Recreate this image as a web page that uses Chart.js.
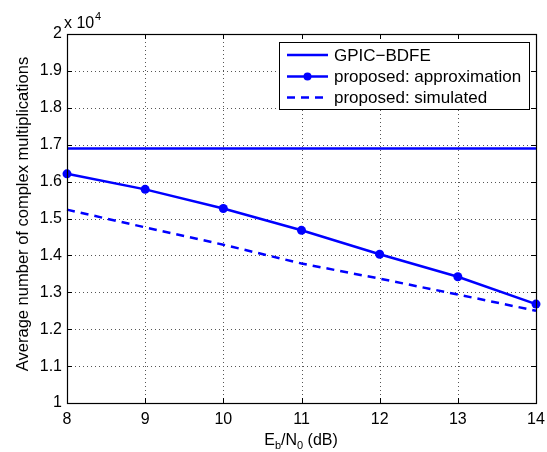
<!DOCTYPE html>
<html lang="en">
<head>
    <meta charset="UTF-8">
    <script src="https://cdn.jsdelivr.net/npm/chart.js"></script>
    <title>Complexity</title>
</head>
<style>
    body{
        margin: 0;
        background: white;
    }
    .box{
        width: 547px;
        height: 452px;
    }
</style>
<body>
    <div class="box">
        <canvas id="myChart" width="547" height="452"></canvas>
    </div>
<script>
    // Eb/N0 in dB
    const ebN0 = [8, 9, 10, 11, 12, 13, 14];
    // average number of complex multiplications
    const gpicBdfe = [16900, 16900, 16900, 16900, 16900, 16900, 16900];
    const proposedApprox = [16210, 15790, 15270, 14680, 14030, 13420, 12680];
    const proposedSim = [15240, 14760, 14290, 13780, 13370, 12940, 12500];
    const seriesNames = ["GPIC\u2212BDFE", "proposed: approximation", "proposed: simulated"];

    const blue = "#0000ff";
    const font = "Liberation Sans, Arial, sans-serif";

    function toPoints(ys){
        return ebN0.map((x, i) => ({x: x, y: ys[i]}));
    }

    // matlab style axes: dotted grid, inward ticks, labels, legend box
    const matlabAxes = {
        id: "matlabAxes",
        beforeDatasetsDraw(chart){
            const c = chart.ctx;
            const a = chart.chartArea;
            const xs = chart.scales.x, ys = chart.scales.y;
            c.save();
            c.strokeStyle = "#555";
            c.lineWidth = 1;
            c.setLineDash([1, 3]);
            xs.ticks.forEach(t => {
                const px = Math.round(xs.getPixelForValue(t.value)) + 0.5;
                if (px < a.left + 2 || px > a.right - 2) return;
                c.beginPath(); c.moveTo(px, a.top); c.lineTo(px, a.bottom); c.stroke();
            });
            ys.ticks.forEach(t => {
                const py = Math.round(ys.getPixelForValue(t.value)) + 0.5;
                if (py < a.top + 2 || py > a.bottom - 2) return;
                c.beginPath(); c.moveTo(a.left, py); c.lineTo(a.right, py); c.stroke();
            });
            c.restore();
        },
        afterDraw(chart){
            const c = chart.ctx;
            const a = chart.chartArea;
            const xs = chart.scales.x, ys = chart.scales.y;
            c.save();
            c.strokeStyle = "#000";
            c.lineWidth = 1;
            c.setLineDash([]);
            // inward ticks
            xs.ticks.forEach(t => {
                const px = Math.round(xs.getPixelForValue(t.value)) + 0.5;
                c.beginPath();
                c.moveTo(px, a.bottom); c.lineTo(px, a.bottom - 5);
                c.moveTo(px, a.top); c.lineTo(px, a.top + 5);
                c.stroke();
            });
            ys.ticks.forEach(t => {
                const py = Math.round(ys.getPixelForValue(t.value)) + 0.5;
                c.beginPath();
                c.moveTo(a.left, py); c.lineTo(a.left + 5, py);
                c.moveTo(a.right, py); c.lineTo(a.right - 5, py);
                c.stroke();
            });
            // box
            c.lineWidth = 1.2;
            c.strokeRect(Math.round(a.left) + 0.5, Math.round(a.top) + 0.5,
                Math.round(a.right - a.left), Math.round(a.bottom - a.top));

            c.fillStyle = "#000";
            // exponent
            c.font = "16px " + font;
            c.textBaseline = "alphabetic";
            c.textAlign = "left";
            c.fillText("x 10", 64, 28);
            c.font = "11px " + font;
            c.fillText("4", 95, 20);

            // y title
            c.font = "16.5px " + font;
            c.save();
            c.translate(23, 214);
            c.rotate(-Math.PI / 2);
            c.textAlign = "center";
            c.textBaseline = "middle";
            c.fillText("Average number of complex multiplications", 0, 0);
            c.restore();

            // x title with subscripts
            const parts = [["E", 0], ["b", 1], ["/N", 0], ["0", 1], [" (dB)", 0]];
            let w = 0;
            parts.forEach(p => {
                c.font = (p[1] ? "11px " : "16px ") + font;
                w += c.measureText(p[0]).width;
            });
            let tx = 301 - w / 2;
            const ty = 445;
            c.textAlign = "left";
            parts.forEach(p => {
                c.font = (p[1] ? "11px " : "16px ") + font;
                c.fillText(p[0], tx, ty + (p[1] ? 4 : 0));
                tx += c.measureText(p[0]).width;
            });

            // legend
            const lx = 279, ly = 42, lw = 250, lh = 67;
            c.fillStyle = "#fff";
            c.fillRect(lx, ly, lw, lh);
            c.lineWidth = 1;
            c.strokeStyle = "#000";
            c.strokeRect(lx + 0.5, ly + 0.5, lw, lh);
            const rowY = [55, 76.5, 97.5];
            chart.data.datasets.forEach((ds, i) => {
                const y = rowY[i];
                c.strokeStyle = ds.borderColor;
                c.lineWidth = ds.borderWidth;
                c.setLineDash(ds.borderDash || []);
                c.beginPath(); c.moveTo(287, y); c.lineTo(328, y); c.stroke();
                c.setLineDash([]);
                if (ds.pointRadius > 0){
                    c.fillStyle = ds.borderColor;
                    c.beginPath(); c.arc(307.5, y, 4, 0, Math.PI * 2); c.fill();
                }
                c.fillStyle = "#000";
                c.font = "17px " + font;
                c.textBaseline = "middle";
                c.fillText(ds.label, 334, y + 1);
            });
            c.restore();
        }
    };

    const ctx = document.getElementById("myChart").getContext("2d");
    new Chart(ctx, {
        type: "line",
        data: {
            datasets: [
                {
                    label: seriesNames[0],
                    data: toPoints(gpicBdfe),
                    borderColor: blue,
                    borderWidth: 2.5,
                    pointRadius: 0,
                },
                {
                    label: seriesNames[1],
                    data: toPoints(proposedApprox),
                    borderColor: blue,
                    backgroundColor: blue,
                    borderWidth: 2.5,
                    pointRadius: 4.5,
                    pointBorderWidth: 0,
                },
                {
                    label: seriesNames[2],
                    data: toPoints(proposedSim),
                    borderColor: blue,
                    borderWidth: 2.5,
                    borderDash: [8, 6],
                    pointRadius: 0,
                },
            ],
        },
        options: {
            responsive: false,
            animation: false,
            clip: false,
            layout: {
                padding: {left: 0, right: 11, top: 34, bottom: 0},
            },
            plugins: {
                legend: {display: false},
                tooltip: {enabled: false},
            },
            scales: {
                x: {
                    type: "linear",
                    min: 8,
                    max: 14,
                    afterFit(scale){
                        scale.height = 49;
                        scale.paddingLeft = 0;
                        scale.paddingRight = 0;
                    },
                    grid: {display: false, drawTicks: false},
                    border: {display: false},
                    ticks: {
                        stepSize: 1,
                        padding: 7,
                        color: "#000",
                        font: {family: font, size: 16},
                    },
                },
                y: {
                    min: 10000,
                    max: 20000,
                    afterFit(scale){
                        scale.width = 67;
                        scale.paddingTop = 0;
                        scale.paddingBottom = 0;
                    },
                    grid: {display: false, drawTicks: false},
                    border: {display: false},
                    ticks: {
                        stepSize: 1000,
                        padding: 5,
                        color: "#000",
                        font: {family: font, size: 16},
                        callback: v => String(Math.round(v / 1000) / 10),
                    },
                },
            },
        },
        plugins: [matlabAxes],
    });
</script>
</body>
</html>
